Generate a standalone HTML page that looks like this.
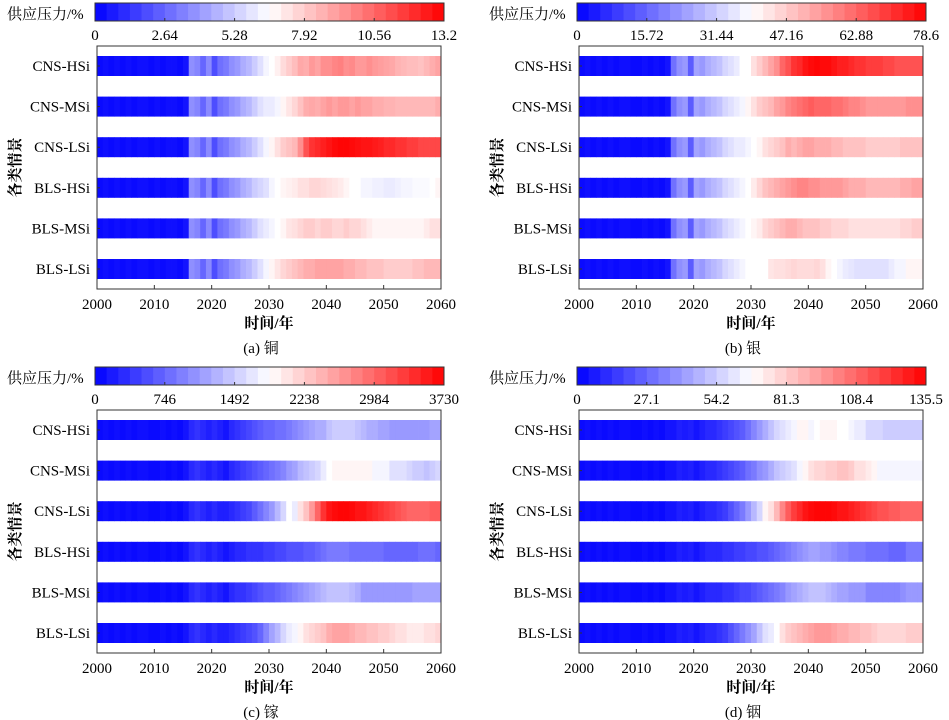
<!DOCTYPE html>
<html><head><meta charset="utf-8"><style>
body{margin:0;background:#fff;}
svg{display:block;font-family:"Liberation Serif","Noto Serif CJK SC",serif;}
</style></head><body>
<svg id="fig" width="949" height="720" viewBox="0 0 949 720"></svg>
<script>
const scenarios=["CNS-HSi","CNS-MSi","CNS-LSi","BLS-HSi","BLS-MSi","BLS-LSi"];
const years0=2000, nYears=60;
const xTicks=[2000,2010,2020,2030,2040,2050,2060];
const cbMaxA=13.2, cbMaxB=78.6, cbMaxC=3730, cbMaxD=135.5;
const cbTicksA=["0","2.64","5.28","7.92","10.56","13.2"];
const cbTicksB=["0","15.72","31.44","47.16","62.88","78.6"];
const cbTicksC=["0","746","1492","2238","2984","3730"];
const cbTicksD=["0","27.1","54.2","81.3","108.4","135.5"];
// values expressed as % of colorbar maximum, per year 2000-2059
const copperHSi=[2,3,2,3,2,3,2,3,3,2, 3,2,3,3,2,4,28,26,20,27, 15,22,24,28,30,34,36,40,44,48, 50,53,57,60,63,67,66,70,68,72, 72,74,75,72,73,70,70,72,70,69, 68,67,65,64,63,63,62,64,66,68];
const copperMSi=[2,3,2,3,2,3,2,3,3,2, 3,2,3,3,2,4,28,26,20,27, 15,22,24,28,30,34,36,40,44,46, 46,48,52,55,58,62,66,67,66,68, 70,68,70,70,68,70,68,68,66,66, 65,65,64,64,64,64,64,64,64,66];
const copperLSi=[2,3,2,3,2,3,2,3,3,2, 3,2,3,3,2,4,28,26,20,27, 15,22,24,28,30,34,36,40,44,48, 52,56,60,62,64,72,84,90,92,94, 96,98,99,99,98,97,96,96,95,94, 92,92,90,90,88,88,86,86,86,86];
const copperBHSi=[2,3,2,3,2,3,2,3,3,2, 3,2,3,3,2,4,28,26,20,27, 15,22,24,28,30,34,36,40,42,44, 48,50,52,53,54,56,56,58,58,57, 56,55,54,52,50,50,48,48,47,47, 46,46,47,48,48,49,49,49,50,52];
const copperBMSi=[2,3,2,3,2,3,2,3,3,2, 3,2,3,3,2,4,28,26,20,27, 15,22,24,28,30,34,36,40,44,46, 48,50,52,55,56,58,60,60,58,60, 60,58,58,60,58,58,56,54,52,52, 52,52,52,52,52,52,52,54,56,56];
const copperBLSi=[2,3,2,3,2,3,2,3,3,2, 3,2,3,3,2,4,28,26,20,27, 15,22,24,28,30,34,36,40,44,48, 52,55,58,60,62,64,66,66,68,68, 68,68,68,66,66,64,64,62,62,62, 60,60,60,60,60,62,62,64,64,64];
const silverHSi=[2,3,2,3,2,3,2,3,3,2, 2,3,2,3,2,4,22,28,30,18, 32,30,34,36,38,42,44,46,50,50, 56,60,64,68,72,80,84,90,92,96, 98,99,98,98,96,94,94,92,90,90, 88,88,88,86,86,84,84,84,84,84];
const silverMSi=[2,3,2,3,2,3,2,3,3,2, 2,3,2,3,2,4,22,28,30,18, 32,30,34,36,38,42,44,46,48,52, 56,60,62,64,68,70,74,76,78,80, 82,80,80,80,78,78,76,74,74,72, 70,70,70,70,70,70,70,72,72,72];
const silverLSi=[2,3,2,3,2,3,2,3,3,2, 2,3,2,3,2,4,22,28,30,18, 32,30,34,36,38,42,44,46,46,48, 50,52,56,58,60,62,66,64,66,68, 68,66,66,66,64,64,62,62,62,62, 60,60,60,60,60,60,62,62,62,62];
const silverBHSi=[2,3,2,3,2,3,2,3,3,2, 2,3,2,3,2,4,22,28,30,18, 32,30,34,36,38,42,44,46,48,50, 54,58,62,64,66,68,70,72,74,74, 72,72,70,70,70,70,68,66,66,66, 64,64,64,64,64,64,66,66,68,68];
const silverBMSi=[2,3,2,3,2,3,2,3,3,2, 2,3,2,3,2,4,22,28,30,18, 32,30,34,36,38,42,44,46,48,50, 52,54,58,60,62,64,66,66,64,62, 62,62,60,60,58,58,58,56,56,56, 56,56,56,56,56,56,58,58,60,60];
const silverBLSi=[2,3,2,3,2,3,2,3,3,2, 2,3,2,3,2,4,22,28,30,18, 32,30,34,36,38,42,44,46,48,50, 50,50,50,55,56,56,57,58,57,57, 57,58,56,52,50,48,46,45,44,44, 44,44,44,44,46,48,48,52,52,52];
const galliumHSi=[2,3,2,3,2,3,2,3,3,2, 2,3,2,3,2,4,8,10,8,6, 8,6,4,8,10,12,14,16,18,20, 20,22,22,24,26,28,30,32,34,34, 38,40,40,40,40,38,36,34,34,32, 32,30,30,30,30,30,30,30,32,32];
const galliumMSi=[2,3,2,3,2,3,2,3,3,2, 2,3,2,3,2,4,8,10,8,6, 8,6,4,8,10,12,14,16,18,20, 22,24,26,30,32,36,38,40,42,46, 50,52,52,52,52,52,52,52,48,48, 48,44,44,44,42,40,40,38,40,42];
const galliumLSi=[2,3,2,3,2,3,2,3,3,2, 2,3,2,3,2,4,8,10,8,6, 8,6,6,8,10,12,14,18,22,26, 30,36,42,50,46,56,62,70,80,90, 96,98,99,99,98,96,96,94,92,90, 88,86,84,82,80,80,80,80,82,82];
const galliumBHSi=[2,3,2,3,2,3,2,3,3,2, 2,3,2,3,2,4,8,10,8,6, 8,6,4,6,8,8,10,10,10,12, 12,14,14,16,16,16,18,18,20,22, 24,24,24,24,22,22,22,22,22,22, 20,20,20,20,20,20,22,22,22,20];
const galliumBMSi=[2,3,2,3,2,3,2,3,3,2, 2,3,2,3,2,4,8,10,8,6, 8,6,4,8,10,10,12,14,16,18, 18,20,22,24,26,28,30,32,34,36, 38,38,38,38,36,34,30,30,30,30, 30,30,30,30,30,32,32,32,32,32];
const galliumBLSi=[2,3,2,3,2,3,2,3,3,2, 2,3,2,3,2,4,8,10,8,6, 8,6,6,8,10,12,14,16,20,26, 32,36,42,46,48,52,56,58,60,62, 66,68,68,68,66,64,64,62,62,60, 60,58,56,56,54,54,54,56,56,58];
const indiumHSi=[2,3,2,3,2,3,2,3,3,2, 2,3,2,3,2,4,4,6,5,6, 4,6,8,8,10,12,14,16,18,22, 26,30,34,38,42,44,46,48,52,52, 48,50,52,52,52,50,50,48,46,46, 42,42,42,40,40,40,40,40,40,40];
const indiumMSi=[2,3,2,3,2,3,2,3,3,2, 2,3,2,3,2,4,4,6,5,6, 4,6,8,8,10,12,14,16,18,22, 24,28,30,34,38,40,42,44,48,52, 56,58,58,60,60,62,62,60,56,56, 54,52,48,48,48,48,48,48,48,48];
const indiumLSi=[2,3,2,3,2,3,2,3,3,2, 2,3,2,3,2,4,4,6,5,6, 4,6,8,8,10,12,16,20,24,30, 36,42,52,56,64,74,82,88,92,96, 98,99,99,99,98,96,96,94,92,90, 88,86,84,84,82,82,80,80,80,80];
const indiumBHSi=[2,3,2,3,2,3,2,3,3,2, 2,3,2,3,2,4,4,6,5,6, 4,6,8,8,8,10,10,12,12,14, 14,16,16,18,20,22,24,26,28,30, 32,32,30,30,28,26,26,24,24,24, 22,22,22,22,20,20,20,24,24,24];
const indiumBMSi=[2,3,2,3,2,3,2,3,3,2, 2,3,2,3,2,4,4,6,5,6, 4,6,8,8,8,10,10,12,14,14, 16,18,20,22,24,26,30,32,34,36, 38,38,38,36,34,32,32,30,30,30, 26,26,26,26,26,26,28,30,30,30];
const indiumBLSi=[2,3,2,3,2,3,2,3,3,2, 2,3,2,3,2,4,4,6,5,6, 4,6,8,8,10,12,16,20,24,28, 32,38,44,46,50,56,60,62,64,66, 68,70,70,70,68,66,66,64,64,62, 62,60,58,58,58,58,58,60,60,60];

const panels=[
 {id:"a",cap:"(a) 铜",dx:0,dy:0,ticks:cbTicksA,rows:[copperHSi,copperMSi,copperLSi,copperBHSi,copperBMSi,copperBLSi]},
 {id:"b",cap:"(b) 银",dx:482,dy:0,ticks:cbTicksB,rows:[silverHSi,silverMSi,silverLSi,silverBHSi,silverBMSi,silverBLSi]},
 {id:"c",cap:"(c) 镓",dx:0,dy:364,ticks:cbTicksC,rows:[galliumHSi,galliumMSi,galliumLSi,galliumBHSi,galliumBMSi,galliumBLSi]},
 {id:"d",cap:"(d) 铟",dx:482,dy:364,ticks:cbTicksD,rows:[indiumHSi,indiumMSi,indiumLSi,indiumBHSi,indiumBMSi,indiumBLSi]}
];
const NS="http://www.w3.org/2000/svg";
const svg=document.getElementById("fig");
function mk(tag,attrs,parent,text){const e=document.createElementNS(NS,tag);for(const k in attrs)e.setAttribute(k,attrs[k]);if(text!==undefined)e.textContent=text;parent.appendChild(e);return e;}
function bwr(t){t=Math.max(0,Math.min(1,t));let r,g,b;if(t<0.5){r=g=Math.round(510*t);b=255;}else{r=255;g=b=Math.round(510*(1-t));}return `rgb(${r},${g},${b})`;}
panels.forEach(p=>{
 const g=mk("g",{transform:`translate(${p.dx},${p.dy})`},svg);
 
 
 const L=97,R=441,T=46,B=289;
 const xs=y=>L+(y-years0)/nYears*(R-L);
 const rowY=i=>66+i*40.6;
 // colorbar
 const cbL=95,cbR=444,cbT=3,cbB=21,nb=30;
 const cb=mk("g",{},g);
 
 
 for(let k=0;k<nb;k++){mk("rect",{x:cbL+k*(cbR-cbL)/nb,y:cbT,width:(cbR-cbL)/nb+0.5,height:cbB-cbT,fill:bwr((k+0.5)/nb)},cb);}
 mk("rect",{x:cbL,y:cbT,width:cbR-cbL,height:cbB-cbT,fill:"none",stroke:"#333","stroke-width":1},cb);
 const cbl=mk("text",{x:7,y:19,"font-size":15},g,"供应压力/%");
 
 
 p.ticks.forEach((t,i)=>{const x=cbL+i*(cbR-cbL)/5;
  mk("line",{x1:x,x2:x,y1:cbB,y2:cbB-3,stroke:"#333"},cb);
  const tl=mk("text",{x:x,y:40,"font-size":15,"text-anchor":"middle"},g,t);
  
  });
 // cells
 p.rows.forEach((vals,i)=>{
  const yc=rowY(i);
  vals.forEach((v,j)=>{const x0=xs(years0+j),x1=xs(years0+j+1);
   const c=mk("rect",{x:x0,y:yc-10,width:x1-x0+0.4,height:20,fill:bwr(v/100)},g);
   
   });
  const lab=mk("text",{x:90,y:yc+5,"font-size":15,"text-anchor":"end"},g,scenarios[i]);
  
  
  mk("line",{x1:L,x2:L+3,y1:yc,y2:yc,stroke:"#333"},g);
 });
 mk("rect",{x:L,y:T,width:R-L,height:B-T,fill:"none",stroke:"#333","stroke-width":1},g);
 xTicks.forEach(t=>{const x=xs(t);mk("line",{x1:x,x2:x,y1:B,y2:B-4,stroke:"#333"},g);
  const tl=mk("text",{x:x,y:309,"font-size":15,"text-anchor":"middle"},g,String(t));
  
  });
 const xt=mk("text",{x:(L+R)/2,y:328,"font-size":15,"text-anchor":"middle","font-weight":"bold"},g,"时间/年");
 
 
 const yt=mk("text",{x:0,y:0,"font-size":15,"text-anchor":"middle","font-weight":"bold",transform:`translate(20,${(T+B)/2}) rotate(-90)`},g,"各类情景");
 
 
 const cap=mk("text",{x:(L+R)/2-8,y:353,"font-size":15,"text-anchor":"middle"},g,p.cap);
 
 
});
</script>
</body></html>
